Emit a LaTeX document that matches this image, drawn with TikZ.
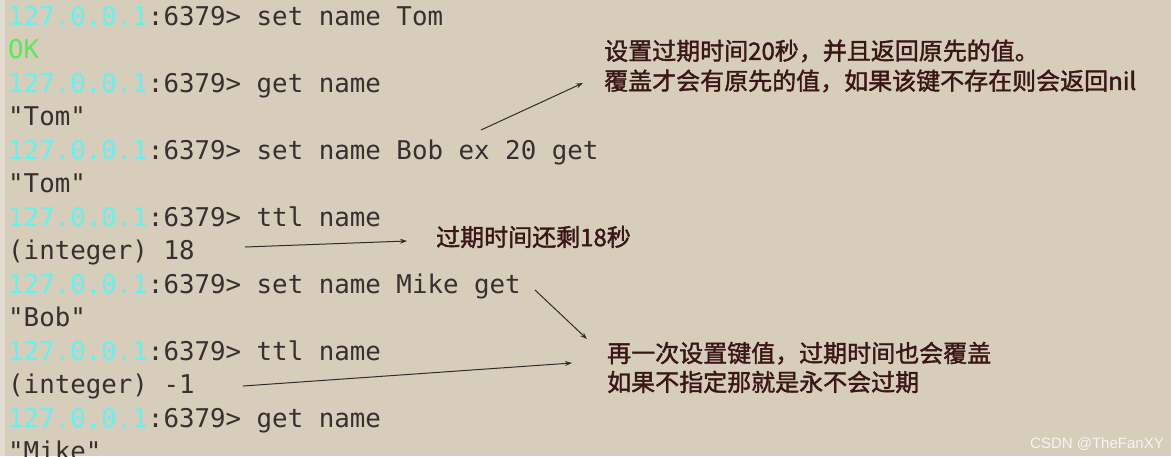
\documentclass[tikz,border=0pt]{standalone}
\usepackage{fontspec}
\setmonofont{DejaVu Sans Mono}
\newfontfamily\cjkfont{Noto Sans CJK SC}[FakeBold=1.6]
\newfontfamily\wmfont{Liberation Sans}
\usetikzlibrary{arrows.meta}
\definecolor{bg}{HTML}{D6CDBA}
\definecolor{stripc}{HTML}{E2DCD0}
\definecolor{promptc}{HTML}{5CF5F5}
\definecolor{okgreen}{HTML}{52EE52}
\definecolor{termc}{HTML}{363030}
\definecolor{notec}{HTML}{3A1616}
\definecolor{arrowc}{HTML}{2E2E2E}
\newcommand\rprompt{{\color{promptc}127.0.0.1}:6379> }
\begin{document}
\begin{tikzpicture}[x=1pt,y=-1pt,
  termline/.style={anchor=base west, inner sep=0pt, text=termc,
    font=\ttfamily\fontsize{25.8}{33.5}\selectfont},
  notebig/.style={anchor=west, inner sep=0pt, align=left, text=notec,
    font=\cjkfont\fontsize{24}{30}\selectfont},
  notemid/.style={anchor=west, inner sep=0pt, align=left, text=notec,
    font=\cjkfont\fontsize{24}{29}\selectfont},
  notesmall/.style={anchor=west, inner sep=0pt, text=notec,
    font=\cjkfont\fontsize{24}{28}\selectfont},
  pointer/.style={draw=arrowc, line width=1pt, -{Stealth[length=7pt,width=5pt]}},
  watermark/.style={anchor=west, inner sep=0pt, text=white!80!bg,
    font=\wmfont\fontsize{15}{18}\selectfont}
]
\useasboundingbox (0,0) rectangle (1171,456);
\clip (0,0) rectangle (1171,456);
\fill[bg] (0,0) rectangle (1171,456);
\fill[stripc] (0,0) rectangle (5,456);

% terminal lines
\node[termline] (l1)  at (8,25)    {\rprompt set name Tom};
\node[termline, text=okgreen] (l2) at (8,58.5) {OK};
\node[termline] (l3)  at (8,92)    {\rprompt get name};
\node[termline] (l4)  at (8,125.5) {"Tom"};
\node[termline] (l5)  at (8,159)   {\rprompt set name Bob ex 20 get};
\node[termline] (l6)  at (8,192.5) {"Tom"};
\node[termline] (l7)  at (8,226)   {\rprompt ttl name};
\node[termline] (l8)  at (8,259.5) {(integer) 18};
\node[termline] (l9)  at (8,293)   {\rprompt set name Mike get};
\node[termline] (l10) at (8,326.5) {"Bob"};
\node[termline] (l11) at (8,360)   {\rprompt ttl name};
\node[termline] (l12) at (8,393.5) {(integer) -1};
\node[termline] (l13) at (8,427)   {\rprompt get name};
\node[termline] (l14) at (8,460.5) {"Mike"};

% annotations
\node[notebig] (n1) at (604,66) {设置过期时间20秒，并且返回原先的值。\\覆盖才会有原先的值，如果该键不存在则会返回nil};
\node[notesmall] (n2) at (436,237) {过期时间还剩18秒};
\node[notemid] (n3) at (607,367.5) {再一次设置键值，过期时间也会覆盖\\如果不指定那就是永不会过期};

% arrow end points
\coordinate (t1) at (481,130);
\coordinate (h1) at (583,83);
\coordinate (t2) at (245,247);
\coordinate (h2) at (407,241);
\coordinate (t3) at (535,290);
\coordinate (h3) at (587,339);
\coordinate (t4) at (243,386);
\coordinate (h4) at (572,363);

\draw[pointer] (t1) -- (h1);
\draw[pointer] (t2) -- (h2);
\draw[pointer] (t3) -- (h3);
\draw[pointer] (t4) -- (h4);

\node[watermark] (wm) at (1030,444) {CSDN @TheFanXY};
\end{tikzpicture}
\end{document}
